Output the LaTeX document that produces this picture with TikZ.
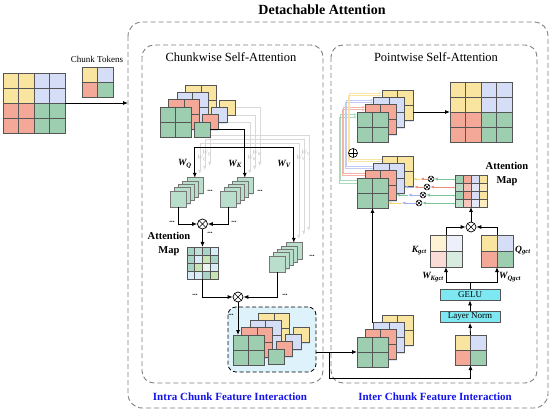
\documentclass[tikz,border=0pt]{standalone}
\usepackage{fontspec}
\setmainfont{Liberation Serif}
\usetikzlibrary{arrows.meta,shadows,calc,positioning}
\pgfdeclarelayer{bg}
\pgfsetlayers{bg,main}

\definecolor{cYel}{RGB}{250,229,160}
\definecolor{cBlu}{RGB}{214,221,246}
\definecolor{cSal}{RGB}{243,168,152}
\definecolor{cGrn}{RGB}{158,206,176}
\definecolor{cQkv}{RGB}{185,222,204}
\definecolor{cLine}{RGB}{85,85,85}
\definecolor{cShd}{RGB}{110,150,205}
\definecolor{cCyan}{RGB}{125,232,242}
\definecolor{cFrm}{RGB}{128,128,128}
\definecolor{cPale}{RGB}{221,242,250}
\definecolor{cBlueTxt}{RGB}{20,20,235}
\definecolor{cYelL}{RGB}{246,214,110}
\definecolor{cBluL}{RGB}{160,175,240}
\definecolor{cSalL}{RGB}{240,140,120}
\definecolor{cGrnL}{RGB}{120,200,150}
\definecolor{aT}{RGB}{168,211,198}
\definecolor{aL}{RGB}{215,236,246}
\definecolor{aG}{RGB}{200,228,176}
\definecolor{aW}{RGB}{236,244,242}

\tikzset{
  blk/.style={draw=cLine, line width=0.8pt, fill=white, inner sep=0pt, outer sep=0pt,
    minimum width=31pt, minimum height=30pt,
    drop shadow={shadow xshift=0.4pt, shadow yshift=-1.4pt, opacity=0.25, fill=cShd}},
  sq/.style={blk, minimum width=16pt, minimum height=15pt},
  qsq/.style={draw=cLine!80, line width=0.6pt, fill=cQkv, inner sep=0pt, outer sep=0pt, minimum size=16pt,
    drop shadow={shadow xshift=0.4pt, shadow yshift=-1pt, opacity=0.22, fill=cShd}},
  gridln/.style={draw=cLine, line width=0.8pt},
  frm/.style={draw=cFrm, line width=0.9pt, dash pattern=on 5pt off 3pt, rounded corners=12pt},
  obox/.style={draw=black, line width=0.8pt, dash pattern=on 4pt off 2.5pt, rounded corners=8pt,
    fill=cPale, minimum width=88pt, minimum height=65pt, inner sep=0pt},
  fnbox/.style={draw=cLine, line width=0.7pt, fill=cCyan, minimum width=60pt, minimum height=11pt,
    inner sep=0pt, font=\fontsize{9}{9}\selectfont},
  arr/.style={line width=0.8pt, -{Latex[length=5pt,width=4pt]}},
  arr2/.style={line width=0.8pt, {Latex[length=5pt,width=4pt]}-{Latex[length=5pt,width=4pt]}},
  sarr/.style={line width=0.7pt, -{Latex[length=3.5pt,width=3pt]}},
  cline/.style={line width=0.6pt, -{Latex[length=3pt,width=2.6pt]}},
  gline/.style={draw=gray!30, line width=0.6pt, -{Latex[length=4pt,width=3.5pt]}},
  gline2/.style={draw=gray!30, line width=0.6pt, {Latex[length=4pt,width=3.5pt]}-{Latex[length=4pt,width=3.5pt]}},
  otimes/.style={circle, draw, line width=0.7pt, fill=white, minimum size=10pt, inner sep=0pt,
    path picture={\draw[line width=0.7pt] (path picture bounding box.center) +(-3.6pt,-3.6pt) -- +(3.6pt,3.6pt)
      (path picture bounding box.center) +(-3.6pt,3.6pt) -- +(3.6pt,-3.6pt);}},
  sotimes/.style={circle, draw, line width=0.5pt, fill=white, minimum size=6pt, inner sep=0pt,
    path picture={\draw[line width=0.6pt] (path picture bounding box.center) +(-2.2pt,-2.2pt) -- +(2.2pt,2.2pt)
      (path picture bounding box.center) +(-2.2pt,2.2pt) -- +(2.2pt,-2.2pt);}},
  oplus/.style={circle, draw, line width=0.6pt, fill=white, minimum size=9pt, inner sep=0pt,
    path picture={\draw[line width=0.6pt] (path picture bounding box.north) -- (path picture bounding box.south)
      (path picture bounding box.west) -- (path picture bounding box.east);}},
  ttl/.style={font=\bfseries\fontsize{14}{16}\selectfont},
  sub/.style={font=\fontsize{12.5}{14}\selectfont},
  lbl/.style={font=\bfseries\fontsize{11}{13}\selectfont, text=cBlueTxt},
  smalltxt/.style={font=\fontsize{9}{10}\selectfont},
  amap/.style={font=\bfseries\fontsize{10.5}{14}\selectfont, align=center},
  wlab/.style={font=\bfseries\itshape\fontsize{9.5}{11}\selectfont, inner sep=1pt},
  glab/.style={font=\bfseries\itshape\fontsize{6.5}{7}\selectfont, inner sep=0pt, text=gray!40},
  ellip/.style={font=\fontsize{5}{5}\selectfont, inner sep=0pt}
}

% 2x2 token block: name, position, four colours
\newcommand{\tokgrid}[7][]{%
  \node[blk, anchor=north west, #1] (#2) at (#3) {};
  \fill[fill=#4] (#2.north west) rectangle (#2.center);
  \fill[fill=#5] (#2.north) rectangle (#2.east);
  \fill[fill=#6] (#2.west) rectangle (#2.south);
  \fill[fill=#7] (#2.center) rectangle (#2.south east);
  \draw[gridln] (#2.north) -- (#2.south) (#2.west) -- (#2.east)
    (#2.north west) rectangle (#2.south east);
}
\newcommand{\laygrid}[3]{\tokgrid{#1}{#2}{#3}{#3}{#3}{#3}}
\newcommand{\fourlines}[1]{%
  \foreach \f in {0.25,0.5,0.75}{
    \draw[gridln] ($(#1.north west)!\f!(#1.north east)$) -- ($(#1.south west)!\f!(#1.south east)$);
    \draw[gridln] ($(#1.north west)!\f!(#1.south west)$) -- ($(#1.north east)!\f!(#1.south east)$);
  }
  \draw[gridln] (#1.north west) rectangle (#1.south east);
}
\newcommand{\bigrid}[2]{%
  \node[blk, anchor=north west, minimum width=62pt, minimum height=60pt] (#1) at (#2) {};
  \fill[cYel] (#1.north west) rectangle (#1.center);
  \fill[cBlu] (#1.north) rectangle (#1.east);
  \fill[cSal] (#1.west) rectangle (#1.south);
  \fill[cGrn] (#1.center) rectangle (#1.south east);
  \fourlines{#1}
}
\newcommand{\dotsep}{\textbullet\textbullet\textbullet}

\begin{document}
\begin{tikzpicture}[x=1pt,y=-1pt]
\useasboundingbox (0,0) rectangle (550,412);

% frames
\draw[frm, rounded corners=14pt] (128,22) rectangle (548,408);
\draw[frm] (142,45) rectangle (323,383);
\draw[frm] (331,45) rectangle (537,383);
\node[obox] (oBox) at (272,339.5) {};

\node[ttl] (tDet) at (322,10) {Detachable Attention};
\node[sub] (tCsa) at (231,57) {Chunkwise Self-Attention};
\node[sub] (tPsa) at (436,57) {Pointwise Self-Attention};
\node[lbl] (tIntra) at (230,397) {Intra Chunk Feature Interaction};
\node[lbl] (tInter) at (435,397) {Inter Chunk Feature Interaction};
\node[smalltxt] (tTok) at (97,59) {Chunk Tokens};

% input
\bigrid{inGrid}{3,73}
\tokgrid{tokA}{82,67}{cYel}{cBlu}{cSal}{cGrn}
\coordinate (frmL) at (128,103);
\draw[arr] (inGrid.east) -- (frmL);

% chunkwise branch
\foreach \k/\cl in {3/cYel,2/cBlu,1/cSal,0/cGrn}{
  \laygrid{cTop\k}{160+8.5*\k,107-7.3*\k}{\cl}
  \node[sq, fill=\cl, anchor=north west] (cTopS\k) at (194+8.5*\k,122-7.3*\k) {};
}
\foreach \k in {4,3,2,1,0}{
  \node[qsq, anchor=north west] (q\k) at (170+4.2*\k,191-3.3*\k) {};
  \node[qsq, anchor=north west] (k\k) at (220+4.2*\k,191-3.3*\k) {};
  \node[qsq, anchor=north west] (v\k) at (269+4.2*\k,256-3.3*\k) {};
}
\coordinate (split) at (244.8,147);
\coordinate (sq) at (split -| q4.north);
\coordinate (sv) at (split -| v4.north);
\begin{pgfonlayer}{bg}
\foreach \g in {1,2,3}{
  \draw[gline] (cTopS\g.east) -| ($(k4.north)+(5*\g,-4*\g)$);
  \draw[gline2] ($(q4.north)+(5*\g,-4*\g)$) -- ($(sq)+(5*\g,-4*\g)$) -- ($(sv)+(5*\g,-4*\g)$) -- ($(v4.north)+(5*\g,-4*\g)$);
}
\foreach \g in {1,2}{
  \node[glab, anchor=west] at ($(sq)+(5*\g-3,16-5*\g)$) {W\textsubscript{Q}};
  \node[glab, anchor=west] at ($(split)+(5*\g-3,16-5*\g)$) {W\textsubscript{K}};
  \node[glab, anchor=west] at ($(sv)+(5*\g-3,16-5*\g)$) {W\textsubscript{V}};
}
\end{pgfonlayer}
\draw[arr] (cTopS0.east) -| (k4.north);
\draw[arr2] (q4.north) -- (sq) -- (sv) -- (v4.north);
\node[wlab, anchor=east] (lWq) at (193,164) {W\textsubscript{Q}};
\node[wlab, anchor=east] (lWk) at (243,164) {W\textsubscript{K}};
\node[wlab, anchor=east] (lWv) at (292,164) {W\textsubscript{V}};

\node[otimes] (mulA) at (202.5,224) {};
\node[blk, anchor=north west, minimum width=31pt, minimum height=32pt] (attL) at (187,247) {};
\foreach \r/\ca/\cb/\cc/\cd in {0/aT/aT!70!white/aT/aL, 1/aT/aL/aG/aT, 2/aT/aG/aW/aL, 3/aL/aL/aT/aG}{
  \foreach \col/\cl in {0/\ca,1/\cb,2/\cc,3/\cd}
    \fill[fill=\cl] ([shift={(\col*7.75,\r*8)}]attL.north west) rectangle ++(7.75,8);
}
\fourlines{attL}
\node[amap] (lAttL) at (169,244) {Attention\\Map};
\node[otimes] (mulB) at (238,297) {};

\draw[arr] (q0.south) |- (mulA.west);
\draw[arr] (k0.south) |- (mulA.east);
\draw[arr] (mulA.south) -- (attL.north);
\draw[arr] (attL.south) |- (mulB.west);
\draw[arr] (v0.south) |- (mulB.east);

\foreach \k/\cl in {3/cYel,2/cBlu,1/cSal,0/cGrn}{
  \laygrid{oStk\k}{233+8.6*\k,335-7.3*\k}{\cl}
  \node[sq, fill=\cl, anchor=north west] (oStkS\k) at (268+8.6*\k,349-7.3*\k) {};
}
\draw[arr] (mulB.south) -- (mulB.south |- oStk0.north);

\node[ellip] at (210,191) {\dotsep};
\node[ellip] at (260,191) {\dotsep};
\node[ellip] at (172,222) {\dotsep};
\node[ellip] at (234,222) {\dotsep};
\node[ellip] at (210,233) {\dotsep};
\node[ellip] at (195,295) {\dotsep};
\node[ellip] at (285,295) {\dotsep};
\node[ellip] at (312,256) {\dotsep};
\node[ellip] at (231,315) {\dotsep};

% pointwise branch
\foreach \k/\cl in {3/cYel,2/cBlu,1/cSal,0/cGrn}{
  \laygrid{pTop\k}{357+8.3*\k,112-7.2*\k}{\cl}
  \laygrid{pMid\k}{357+8.3*\k,178-7.2*\k}{\cl}
  \laygrid{pBot\k}{357+8.3*\k,337-7.2*\k}{\cl}
}
\begin{pgfonlayer}{bg}
\foreach \k/\cl/\dx in {0/cGrnL/18,1/cSalL/23.3,2/cBluL/28.6,3/cYelL/33.9}{
  \foreach \j in {0,1}{
    \draw[cline, color=\cl!65!white] ([yshift={(-5+2.5*\j)*1pt}]pMid\k.north west) -- ++(-\dx+1.6*\j,0)
      |- ([yshift={(-5+2.5*\j)*1pt}]pTop\k.north west);
  }
}
\end{pgfonlayer}
\node[oplus] (plusR) at (353,153) {};

\bigrid{bigOut}{450,82}
\draw[arr] (pTop3.east |- bigOut.west) -- (bigOut.west);

\node[blk, anchor=north west, minimum width=32pt, minimum height=32pt] (attR) at (455,175) {};
\foreach \r/\t in {0/100,1/75,2/100,3/65}{
  \foreach \col/\cl in {0/cGrn,1/cSal,2/cBlu,3/cYel}
    \fill[fill=\cl!\t!white] ([shift={(\col*8,\r*8)}]attR.north west) rectangle ++(8,8);
}
\fourlines{attR}
\node[amap] (lAttR) at (507,174) {Attention\\Map};

\foreach \i/\j/\ca/\cb/\cc in {0/3/cGrnL/cSalL/cYelL, 1/2/cSalL/cSalL/cBluL, 2/1/cGrnL/cBluL/cGrnL, 3/0/cGrnL/cBluL/cYelL}{
  \node[sotimes] (sm\i) at (431-4*\i,179+8*\i) {};
  \coordinate (smEnd\i) at (sm\i -| pMid\j.east);
  \draw[sarr, color=\ca] (sm\i -| attR.west) -- (sm\i.east);
  \draw[sarr, color=\cb] (sm\i.west) -- ($(sm\i.west)!0.5!(smEnd\i)$);
  \draw[sarr, color=\cc] ($(sm\i.west)!0.5!(smEnd\i)$) -- (smEnd\i);
}

\tokgrid[minimum width=32pt, minimum height=32pt]{Kg}{430,235}{cYel!45!white}{cBlu!45!white}{cSal!40!white}{cGrn!40!white}
\tokgrid[minimum width=32pt, minimum height=32pt]{Qg}{481,235}{cYel}{cBlu}{cSal}{cGrn}
\node[otimes] (mulR) at (471,227) {};
\node[fnbox] (gelu) at (470,294.5) {GELU};
\node[fnbox] (lnorm) at (470,317) {Layer Norm};
\tokgrid{tokR}{455,335}{cYel}{cBlu}{cSal}{cGrn}

\node[wlab, anchor=east] (lKg) at (428,251) {K\textsubscript{gct}};
\node[wlab, anchor=west] (lQg) at (514,251) {Q\textsubscript{gct}};
\node[wlab, anchor=east] (lWkg) at (445,277) {W\textsubscript{Kgct}};
\node[wlab, anchor=west] (lWqg) at (498,277) {W\textsubscript{Qgct}};

\draw[arr] (tokR.north) -- (lnorm.south);
\draw[arr] (lnorm.north) -- (gelu.south);
\draw[arr] (gelu.north) -- ++(0,-6) -| (Kg.south);
\draw[arr] (gelu.north) -- ++(0,-6) -| (Qg.south);
\draw[arr] (Kg.north) |- (mulR.west);
\draw[arr] (Qg.north) |- (mulR.east);
\draw[arr] (mulR.north) -- (attR.south);
\draw[arr] (pBot0.north |- pBot2.north) -- (pMid0.south);

% link between the two branches
\coordinate (oOut) at (oBox.east |- pBot0.west);
\coordinate (brk) at ($(oOut)+(13,0)$);
\coordinate (lowR) at ($(brk)+(0,26)$);
\draw[arr] (oOut) -- (pBot0.west);
\draw[arr] (brk) -- (lowR) -| (tokR.south);
\end{tikzpicture}
\end{document}
